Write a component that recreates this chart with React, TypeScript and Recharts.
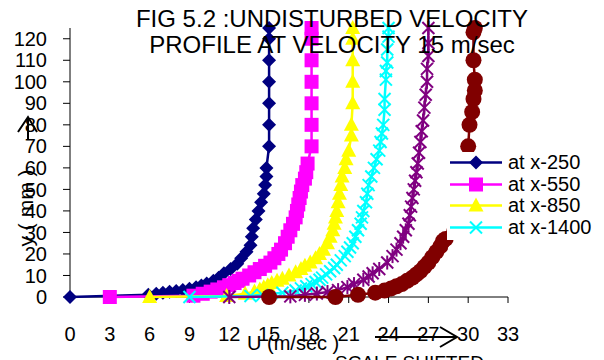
import React from 'react';
import { ScatterChart, Scatter, XAxis, YAxis, Legend } from 'recharts';

const FONT = '"Liberation Sans", Arial, sans-serif';

const uTicks = [0, 3, 6, 9, 12, 15, 18, 21, 24, 27, 30, 33];
const yTicks = [0, 10, 20, 30, 40, 50, 60, 70, 80, 90, 100, 110, 120];

// at x-250
const y250 = [0, 1, 1.5, 2, 2.4, 2.8, 3.3, 3.8, 4.5, 5.3, 6.3, 7.5, 9, 11, 13, 15.5, 18, 21, 24, 28, 32, 36, 40, 44, 48, 52, 56, 60, 70, 80, 90, 100, 110, 120, 125];
const u250 = [0, 5.9, 6.5, 7.0, 7.5, 8.0, 8.5, 9.0, 9.5, 9.9, 10.3, 10.8, 11.2, 11.6, 12.1, 12.6, 12.9, 13.3, 13.6, 13.7, 13.8, 14.0, 14.2, 14.4, 14.6, 14.7, 14.8, 14.8, 15.0, 15.0, 15.0, 15.0, 15.0, 15.0, 15.0];

// at x-550
const y550 = [0, 0.6, 1.5, 2.5, 3.5, 4.5, 5.5, 6.5, 7.5, 8.5, 10, 11.5, 13, 14.5, 16, 18, 20, 22, 25, 28, 31, 34, 37, 40, 43, 46, 49, 52, 55, 58, 62, 70, 80, 90, 100, 110, 120, 125];
const u550 = [3, 9.3, 10.0, 10.6, 11.1, 11.6, 12.0, 12.4, 12.7, 13.0, 13.5, 13.9, 14.3, 14.7, 15.1, 15.4, 15.7, 15.9, 16.2, 16.4, 16.6, 16.8, 17.0, 17.1, 17.2, 17.3, 17.4, 17.5, 17.7, 17.8, 17.9, 18.2, 18.2, 18.2, 18.2, 18.2, 18.2, 18.2];

// at x-850
const y850 = [0, 0.5, 1.5, 2.5, 3.5, 4.5, 5.5, 6.5, 7.5, 8.5, 10, 11.5, 13, 14.5, 16, 18, 20, 22, 25, 28, 31, 34, 37, 40, 44, 48, 52, 56, 60, 64, 68, 75, 80, 90, 100, 110, 120, 125];
const u850 = [6, 11.8, 13.2, 13.9, 14.3, 14.6, 14.9, 15.2, 15.6, 16.0, 16.5, 17.0, 17.4, 17.7, 18.1, 18.5, 18.8, 19.1, 19.4, 19.6, 19.8, 19.9, 20.0, 20.1, 20.2, 20.3, 20.4, 20.5, 20.7, 20.8, 21.0, 21.2, 21.2, 21.3, 21.3, 21.3, 21.3, 21.3];

// at x-1400
const y1400 = [0, 0.5, 1, 2, 3, 4, 5, 6, 7, 8, 9, 10.5, 12, 13.5, 15, 17, 19, 21, 23, 25, 28, 31, 34, 37, 40, 44, 48, 52, 56, 60, 64, 68, 72, 76, 80, 87, 92, 101, 105, 109, 115, 121, 125];
const u1400 = [9, 13.6, 14.5, 16.0, 17.0, 17.4, 17.8, 18.2, 18.5, 18.8, 19.0, 19.3, 19.6, 19.9, 20.1, 20.4, 20.7, 20.9, 21.1, 21.3, 21.5, 21.7, 21.9, 22.0, 22.1, 22.3, 22.4, 22.5, 22.7, 22.9, 23.1, 23.3, 23.4, 23.5, 23.6, 23.7, 23.7, 23.8, 23.8, 23.9, 23.9, 24.0, 24.0];

// 5th profile (legend entry cut off)
const yP5 = [0, 0.3, 1, 1.6, 2.3, 3.2, 4.6, 6, 8, 9.5, 11, 13, 16, 19, 22, 25, 28, 31, 34, 38, 42, 46, 50, 54, 58, 62, 67, 72, 77, 82, 88, 94, 100, 106, 112, 118, 125];
const uP5 = [12, 16.6, 17.7, 18.6, 19.4, 20.2, 20.9, 21.4, 22.1, 22.5, 22.8, 23.3, 23.9, 24.3, 24.6, 24.9, 25.1, 25.3, 25.5, 25.6, 25.7, 25.8, 25.9, 26.0, 26.1, 26.2, 26.3, 26.4, 26.5, 26.6, 26.7, 26.8, 26.9, 26.9, 27.0, 27.0, 27.0];

// 6th profile (legend entry cut off)
const yP6 = [0, 0, 1, 2, 3, 4, 5, 6, 7.5, 9, 10.5, 12, 14, 16, 18.5, 21, 23.5, 26, 27, 70, 80, 86, 92, 96, 101, 110, 123, 125];
const uP6 = [15, 20, 21.7, 23.0, 23.7, 24.2, 24.6, 25.0, 25.4, 25.8, 26.1, 26.4, 26.7, 27.0, 27.3, 27.6, 27.9, 28.1, 28.3, 30.0, 30.1, 30.3, 30.4, 30.5, 30.5, 30.4, 30.4, 30.5];

const zip = (us: number[], ys: number[]) => us.map((u, i) => ({ u, y: ys[i] }));

type Kind = 'diamond' | 'square' | 'triangle' | 'x' | 'star' | 'circle';

function Marker({ cx, cy, kind, color }: { cx: number; cy: number; kind: Kind; color: string }) {
  if (cx == null || cy == null) return null;
  switch (kind) {
    case 'diamond':
      return <polygon points={`${cx},${cy - 7} ${cx + 7},${cy} ${cx},${cy + 7} ${cx - 7},${cy}`} fill={color} />;
    case 'square':
      return <rect x={cx - 7} y={cy - 7} width={14} height={14} fill={color} />;
    case 'triangle':
      return <polygon points={`${cx},${cy - 8} ${cx + 7.5},${cy + 6} ${cx - 7.5},${cy + 6}`} fill={color} />;
    case 'x':
      return (
        <g stroke={color} strokeWidth={2}>
          <line x1={cx - 6} y1={cy - 6} x2={cx + 6} y2={cy + 6} />
          <line x1={cx + 6} y1={cy - 6} x2={cx - 6} y2={cy + 6} />
        </g>
      );
    case 'star':
      return (
        <g stroke={color} strokeWidth={2}>
          <line x1={cx - 6} y1={cy - 6} x2={cx + 6} y2={cy + 6} />
          <line x1={cx + 6} y1={cy - 6} x2={cx - 6} y2={cy + 6} />
          <line x1={cx} y1={cy - 7} x2={cx} y2={cy + 7} />
        </g>
      );
    default:
      return <circle cx={cx} cy={cy} r={8} fill={color} />;
  }
}

const series: { name: string; color: string; kind: Kind; data: { u: number; y: number }[] }[] = [
  { name: 'at x-250', color: '#000080', kind: 'diamond', data: zip(u250, y250) },
  { name: 'at x-550', color: '#FF00FF', kind: 'square', data: zip(u550, y550) },
  { name: 'at x-850', color: '#FFFF00', kind: 'triangle', data: zip(u850, y850) },
  { name: 'at x-1400', color: '#00FFFF', kind: 'x', data: zip(u1400, y1400) },
  { name: 'profile 5', color: '#800080', kind: 'star', data: zip(uP5, yP5) },
  { name: 'profile 6', color: '#800000', kind: 'circle', data: zip(uP6, yP6) },
];

const LegendBox = () => (
  <div style={{ fontFamily: FONT, fontSize: 20, color: '#000' }}>
    {series.slice(0, 4).map((s) => (
      <div key={s.name} style={{ display: 'flex', alignItems: 'center', height: 21.5 }}>
        <svg width={58} height={21} style={{ display: 'block' }}>
          <line x1={3} x2={55} y1={10.5} y2={10.5} stroke={s.color} strokeWidth={2.5} />
          <Marker cx={29} cy={10.5} kind={s.kind} color={s.color} />
        </svg>
        <span style={{ marginLeft: 3, lineHeight: '21px' }}>{s.name}</span>
      </div>
    ))}
  </div>
);

export default function App() {
  const tickStyle = { fontSize: 20, fill: '#000', fontFamily: FONT };
  return (
    <div style={{ position: 'absolute', left: 0, top: 0, width: 604, height: 360, background: '#fff', fontFamily: FONT }}>
      <ScatterChart width={604} height={360} margin={{ top: 28, right: 96, bottom: 0, left: 0 }}>
        <XAxis
          type="number"
          dataKey="u"
          domain={[0, 33]}
          ticks={uTicks}
          interval={0}
          height={63}
          tick={tickStyle}
          tickSize={6}
          tickMargin={24}
          stroke="#000"
        />
        <YAxis
          type="number"
          dataKey="y"
          domain={[0, 125]}
          ticks={yTicks}
          interval={0}
          width={70}
          tick={tickStyle}
          tickSize={7}
          tickMargin={16}
          stroke="#000"
        />
        {series.map((s) => (
          <Scatter
            key={s.name}
            name={s.name}
            data={s.data}
            fill={s.color}
            line={{ stroke: s.color, strokeWidth: 2.5 }}
            lineType="joint"
            isAnimationActive={false}
            shape={(p: any) => <Marker cx={p.cx} cy={p.cy} kind={s.kind} color={s.color} />}
          />
        ))}
        <Legend
          layout="vertical"
          align="center"
          verticalAlign="middle"
          content={() => <LegendBox />}
          wrapperStyle={{ left: 447, top: 152, width: 157, height: 88, background: '#fff' }}
        />
      </ScatterChart>
      <svg width={604} height={360} style={{ position: 'absolute', left: 0, top: 0, pointerEvents: 'none' }}>
        <g fontFamily={FONT} fill="#000">
          <text x={332} y={27} fontSize={24} textAnchor="middle">FIG 5.2 :UNDISTURBED VELOCITY</text>
          <text x={332} y={53} fontSize={24} textAnchor="middle">PROFILE AT VELOCITY 15 m/sec</text>
          <text x={33} y={208} fontSize={21} textAnchor="middle" transform="rotate(-90 33 208)">y ( mm )</text>
          <text x={247} y={350} fontSize={20}>U (m/sec )</text>
          <text x={335} y={369} fontSize={19}>SCALE SHIFTED</text>
        </g>
        <g stroke="#000" strokeWidth={2} fill="none">
          <line x1={28} y1={140} x2={28} y2={118} />
          <polyline points="18,132 28,117 37,132" />
          <line x1={375} y1={337} x2={457} y2={337} />
          <polyline points="440,327 457,337 440,347" />
        </g>
      </svg>
    </div>
  );
}
